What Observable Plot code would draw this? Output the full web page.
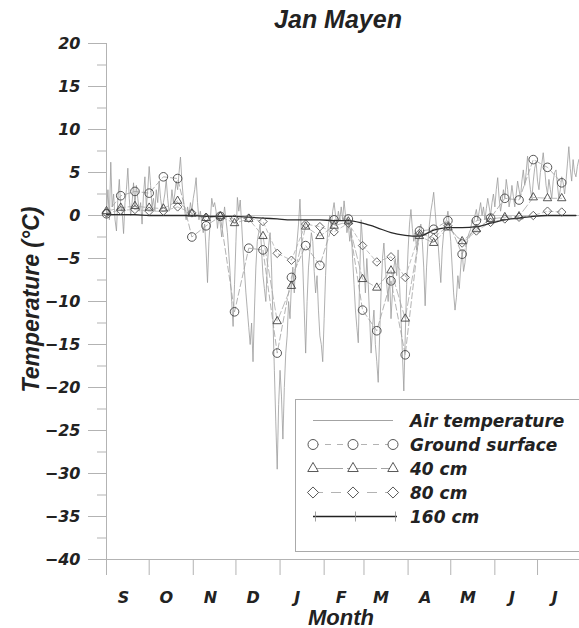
<!DOCTYPE html>
<html><head><meta charset="utf-8">
<script src="https://cdn.jsdelivr.net/npm/d3@7"></script>
<script src="https://cdn.jsdelivr.net/npm/@observablehq/plot@0.6"></script>
<style>
body{margin:0;background:#fff;}
#wrap{position:relative;width:579px;height:628px;overflow:hidden;}
#wrap svg{position:absolute;left:0;top:0;}
</style></head><body><div id="wrap"></div>
<script>
// ---- data ----
const startDate = "2008-09-01T00:00Z";
const endDate = "2009-07-30T12:00Z";
const monthLabels = ["S","O","N","D","J","F","M","A","M","J","J"];
const yTicks = [-40,-35,-30,-25,-20,-15,-10,-5,0,5,10,15,20];
const yMinorTicks = [-37.5,-32.5,-27.5,-22.5,-17.5,-12.5,-7.5,-2.5,2.5,7.5,12.5,17.5];
// daily air temperature from 1 Sep
const airTemperature = [
0.5,3.0,-0.5,6.2,1.0,2.5,-0.5,-1.8,2.0,4.2,
1.0,0.5,-2.1,1.5,3.0,5.5,2.0,0.0,1.5,3.8,
1.0,3.5,2.0,0.5,1.5,-1.0,2.5,4.5,1.0,3.0,
5.7,3.5,1.0,2.0,0.5,3.0,1.5,4.0,2.0,0.8,
1.5,2.5,4.2,2.0,0.5,1.0,3.0,1.5,2.5,4.0,
3.0,5.0,6.8,4.0,2.0,0.5,-0.5,1.0,0.0,1.5,
0.5,2.0,3.0,4.4,1.5,-0.5,0.5,-1.0,-2.0,-1.0,
-4.0,-7.8,-3.0,-0.5,2.0,1.0,1.5,0.5,-1.5,0.0,
-1.0,-2.5,-0.5,1.0,-0.5,-2.0,-4.5,-7.0,-10.0,-12.9,
-8.0,-3.0,2.1,0.5,1.8,-1.0,-4.0,-6.5,-9.0,-11.0,
-13.0,-15.0,-12.5,-17.0,-11.0,-6.0,-3.0,-2.0,-1.0,-4.0,
-7.0,-8.5,-10.0,-6.0,-3.5,-2.0,-6.0,-12.0,-18.0,-24.0,
-29.5,-22.0,-18.0,-21.0,-26.0,-20.0,-16.0,-14.0,-10.0,-12.0,
-8.0,-6.0,-9.0,-5.0,-3.0,-1.0,1.9,-2.0,-6.0,-11.0,
-16.0,-10.0,-6.0,-4.0,-2.0,-3.0,-6.5,-9.0,-7.0,-11.0,
-14.0,-15.0,-17.0,-12.0,-7.0,-3.0,-1.0,0.0,-1.5,0.5,
1.5,0.0,-1.0,0.5,-0.5,1.0,-0.5,1.7,0.0,-2.0,
-1.0,-3.0,-1.5,-5.0,-8.0,-11.0,-13.0,-14.8,-7.0,-0.5,
-3.0,-6.0,-9.0,-5.0,-8.0,-12.0,-16.0,-13.0,-11.0,-15.0,
-17.0,-19.4,-14.0,-9.0,-5.0,-3.2,-6.0,-8.0,-10.0,-7.0,
-12.0,-9.0,-6.0,-5.0,-7.0,-4.0,-8.0,-12.0,-16.0,-20.4,
-14.0,-8.0,-4.0,-1.0,0.7,-1.5,-3.0,-2.0,-4.0,-2.5,
-1.5,-1.0,-3.0,-6.0,-10.5,-6.0,-3.0,-1.0,0.5,1.5,
2.7,0.5,-1.5,-3.0,-5.5,-7.8,-4.0,-2.0,-1.0,-0.5,
0.5,-1.0,-3.0,-6.0,-9.0,-11.0,-9.5,-7.0,-8.5,-6.0,
-4.0,-6.5,-5.5,-3.5,-2.5,-2.0,-1.6,-0.5,-1.0,0.0,
0.7,-0.5,0.5,1.5,0.0,1.0,-0.5,0.8,2.0,1.0,
0.0,1.5,2.5,1.0,3.0,4.4,2.0,0.5,1.5,3.0,
2.0,4.2,3.0,1.0,2.0,3.5,2.2,1.0,2.5,4.0,
3.0,2.0,4.0,5.3,3.5,5.0,6.9,4.5,3.0,2.0,
4.0,5.5,6.2,4.0,3.0,5.0,6.0,7.3,5.5,3.5,
2.5,4.2,3.0,2.0,4.0,5.0,5.3,3.5,2.0,3.0,
4.5,3.8,2.5,4.0,6.0,8.0,5.5,4.0,6.5,5.0,
4.5,5.7,6.5
];
// 10-day values from 1 Sep
const groundSurface = [0.2,2.3,2.8,2.6,4.5,4.3,-2.5,-1.2,-0.1,-11.2,-3.8,-4.0,-16.0,-7.2,-3.5,-5.8,-0.5,-0.4,-11.0,-13.4,-7.6,-16.2,-1.8,-1.6,-0.6,-4.5,-0.6,-0.3,2.0,1.8,6.5,5.6,3.8];
const depth40 = [0.5,0.9,1.1,0.9,0.8,1.7,0.2,-0.3,-0.1,-0.9,-0.4,-2.4,-12.3,-8.2,-1.3,-2.4,-1.2,-0.7,-7.4,-8.4,-6.4,-12.0,-2.4,-3.2,-1.4,-3.0,-1.6,-0.4,-0.2,-0.1,2.1,2.0,2.0];
const depth80 = [0.3,0.6,0.7,0.5,0.5,1.0,0.3,-0.2,-0.1,-0.4,-0.3,-0.7,-4.4,-5.2,-1.0,-1.3,-1.9,-0.9,-3.5,-5.4,-4.8,-7.2,-2.1,-2.6,-1.2,-3.2,-1.8,-0.8,-0.4,-0.2,0.0,0.5,0.4];
const depth160 = [0.1,0.1,0.1,0.0,0.0,0.0,0.0,-0.1,-0.1,-0.1,-0.2,-0.3,-0.4,-0.5,-0.5,-0.5,-0.6,-0.6,-0.9,-1.4,-2.0,-2.3,-2.4,-1.7,-1.4,-1.4,-1.3,-0.9,-0.5,-0.3,-0.1,0.0,0.0,0.0];
const legendLabels = ["Air temperature","Ground surface","40 cm","80 cm","160 cm"];

// ---- build tables ----
const t0 = new Date(startDate), t1 = new Date(endDate);
const airData = airTemperature.map((v,i)=>({date:d3.utcDay.offset(t0,i), value:v}));
const tenDay = arr => arr.map((v,k)=>({date:d3.utcDay.offset(t0,10*k), value:v}));
const gsData = tenDay(groundSurface), d40Data = tenDay(depth40), d80Data = tenDay(depth80), d160Data = tenDay(depth160);
const monthStarts = d3.utcMonth.range(t0, t1);
const monthMids = monthStarts.map(d=>d3.utcDay.offset(d,12));
const labelByTime = new Map(monthMids.map((d,i)=>[+d, monthLabels[i]]));

const titleFont = "'Liberation Sans', Arial, sans-serif";
const tickFont = "'DejaVu Sans', sans-serif";
const axisGray = "#b3b3b3";
const ink = "#222";

const chart = Plot.plot({
  width: 579, height: 628,
  marginTop: 43, marginBottom: 69, marginLeft: 106, marginRight: 0,
  style: {fontFamily: titleFont, fontWeight: "bold", fontStyle: "italic", color: ink, background: "white", overflow: "visible"},
  x: {type: "utc", domain: [t0, t1]},
  y: {domain: [-40, 20]},
  marks: [
    Plot.ruleY([0], {stroke: "#c4c4c4", strokeWidth: 1}),
    Plot.axisY({ticks: yTicks, tickSize: 18, tickPadding: 8, stroke: axisGray, fill: ink, fontSize: 16, fontFamily: tickFont, fontWeight: "bold", fontStyle: "italic", label: null}),
    Plot.axisY({ticks: yMinorTicks, tickSize: 9, tickFormat: () => "", stroke: axisGray, label: null}),
    Plot.axisX({ticks: monthStarts, tickSize: 16, tickFormat: () => "", stroke: axisGray, label: null}),
    Plot.axisX({ticks: monthMids, tickSize: 0, tickPadding: 32, tickFormat: d => labelByTime.get(+d), fill: ink, fontSize: 16, fontFamily: tickFont, fontWeight: "bold", fontStyle: "italic", label: null}),
    Plot.ruleX([t0], {stroke: axisGray}),
    Plot.ruleY([-40], {stroke: axisGray}),
    Plot.line(airData, {x: "date", y: "value", stroke: "#9c9c9c", strokeWidth: 0.8}),
    Plot.line(d80Data, {x: "date", y: "value", stroke: "#b0b0b0", strokeWidth: 0.8, strokeDasharray: "4,3"}),
    Plot.line(d40Data, {x: "date", y: "value", stroke: "#a8a8a8", strokeWidth: 0.8, strokeDasharray: "8,3"}),
    Plot.line(gsData, {x: "date", y: "value", stroke: "#a0a0a0", strokeWidth: 0.8, strokeDasharray: "6,3"}),
    Plot.line(d160Data, {x: "date", y: "value", stroke: "#2a2a2a", strokeWidth: 1.3, curve: "monotone-x"}),
    Plot.dot(d80Data, {x: "date", y: "value", symbol: "diamond2", r: 3.8, stroke: "#555", strokeWidth: 0.9, fill: "none"}),
    Plot.dot(d40Data, {x: "date", y: "value", symbol: "triangle2", r: 4.0, stroke: "#444", strokeWidth: 0.9, fill: "none"}),
    Plot.dot(gsData, {x: "date", y: "value", symbol: "circle", r: 4.3, stroke: "#444", strokeWidth: 0.9, fill: "none"}),
    Plot.text(["Jan Mayen"], {frameAnchor: "top", lineAnchor: "middle", textAnchor: "middle", dy: -24, dx: -5, fontSize: 25, fill: ink}),
    Plot.text(["Month"], {frameAnchor: "bottom", lineAnchor: "middle", textAnchor: "middle", dy: 58, dx: -2, fontSize: 22, fill: ink}),
    Plot.text(["Temperature (°C)"], {frameAnchor: "left", lineAnchor: "middle", textAnchor: "middle", dx: -75, dy: -2, rotate: -90, fontSize: 23, fill: ink})
  ]
});
const wrap = document.getElementById("wrap");
wrap.appendChild(chart);

// ---- legend ----
const lg = d3.select(wrap).append("svg").attr("width", 579).attr("height", 628).style("pointer-events", "none");
const box = {x: 295.5, y: 399.5, w: 300, h: 152};
lg.append("rect").attr("x", box.x).attr("y", box.y).attr("width", box.w).attr("height", box.h)
  .attr("fill", "white").attr("stroke", "#aaa").attr("stroke-width", 1);
const sx0 = 313, sx1 = 393, sxm = (sx0 + sx1) / 2;
const symSize = Math.PI * 25;
const styles = [
  {stroke: "#999", dash: null, sym: null},
  {stroke: "#aaa", dash: "6,6", sym: d3.symbolCircle},
  {stroke: "#999", dash: "30,4", sym: d3.symbolTriangle2},
  {stroke: "#aaa", dash: "10,8", sym: d3.symbolDiamond2},
  {stroke: "#222", dash: null, sym: "tick"}
];
legendLabels.forEach((lab, i) => {
  const y = 420.5 + 24 * i;
  const st = styles[i];
  const g = lg.append("g");
  g.append("line").attr("x1", sx0).attr("x2", st.sym === "tick" ? sx1 + 4 : sx1).attr("y1", y).attr("y2", y)
    .attr("stroke", st.stroke).attr("stroke-width", st.sym === "tick" ? 1.3 : 0.9)
    .attr("stroke-dasharray", st.dash);
  [sx0, sxm, sx1].forEach(cx => {
    if (st.sym === "tick") {
      g.append("line").attr("x1", cx + 2.5).attr("x2", cx + 2.5).attr("y1", y - 5).attr("y2", y + 5).attr("stroke", "#888").attr("stroke-width", 0.8);
    } else if (st.sym) {
      g.append("path").attr("d", d3.symbol(st.sym, symSize)()).attr("transform", `translate(${cx},${y})`)
        .attr("fill", "white").attr("stroke", "#444").attr("stroke-width", 0.9);
    }
  });
  g.append("text").attr("x", 410).attr("y", y + 6).text(lab)
    .attr("font-family", tickFont).attr("font-weight", "bold").attr("font-style", "italic")
    .attr("font-size", 17).attr("fill", ink);
});
</script></body></html>
